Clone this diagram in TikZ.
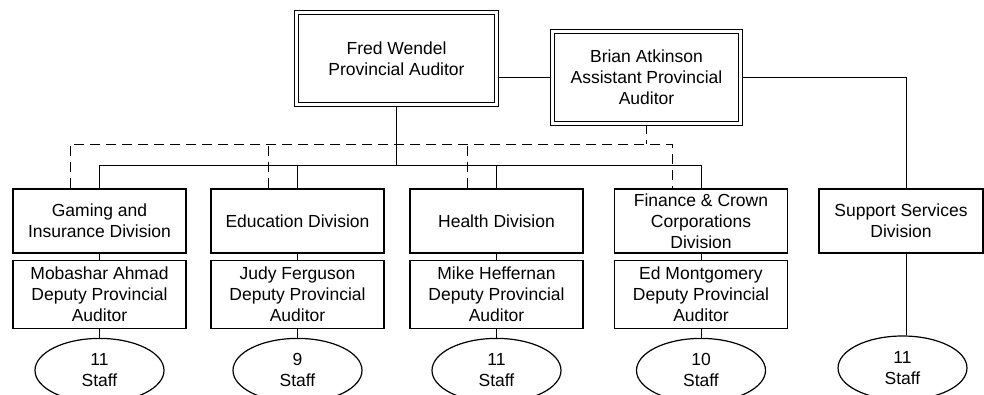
\documentclass[tikz,border=0pt]{standalone}
\usepackage{fontspec}
\setmainfont{Liberation Sans}
\usetikzlibrary{positioning,shapes.geometric,backgrounds}

\begin{document}
\begin{tikzpicture}[x=1pt, y=-1pt, line width=1.2pt,
    every node/.style={font=\fontsize{17.5}{21}\selectfont, align=center, inner sep=0pt},
    head/.style={draw, double, double distance=2.2pt, fill=white},
    unit/.style={draw, fill=white, minimum width=173pt, minimum height=64pt},
    deputy/.style={draw, fill=white, minimum width=173pt, minimum height=68pt},
    staff/.style={draw, ellipse, fill=white, minimum width=129pt, minimum height=64pt},
    link/.style={dash pattern=on 10pt off 6pt}]
    \useasboundingbox (0,0) rectangle (984,395);
    \node[head, minimum width=200pt, minimum height=92pt] (fred) at (396.5,58.5) {Fred Wendel\\Provincial Auditor};
    \node[head, minimum width=188pt, minimum height=92pt] (brian) at (646.5,77.5) {Brian Atkinson\\Assistant Provincial\\Auditor};
    \node[unit] (gaming) at (99.5,221) {Gaming and\\Insurance Division};
    \node[unit] (education) at (297.5,221) {Education Division};
    \node[unit] (health) at (496.5,221) {Health Division};
    \node[unit] (finance) at (701,221) {Finance \& Crown\\Corporations\\Division};
    \node[unit, minimum width=164pt] (support) at (901,221) {Support Services\\Division};
    \node[deputy, below=6pt of gaming] (ahmad) {Mobashar Ahmad\\Deputy Provincial\\Auditor};
    \node[deputy, below=6pt of education] (ferguson) {Judy Ferguson\\Deputy Provincial\\Auditor};
    \node[deputy, below=6pt of health] (heffernan) {Mike Heffernan\\Deputy Provincial\\Auditor};
    \node[deputy, below=6pt of finance] (montgomery) {Ed Montgomery\\Deputy Provincial\\Auditor};
    \node[staff, below=9pt of ahmad] (s1) {11\\Staff};
    \node[staff, below=9pt of ferguson] (s2) {9\\Staff};
    \node[staff, below=9pt of heffernan] (s3) {11\\Staff};
    \node[staff, below=9pt of montgomery] (s4) {10\\Staff};
    \node[staff] (s5) at (902.5,368) {11\\Staff};
    \coordinate (bus) at (0,165);
    \coordinate (dbus) at (0,144);
    \begin{scope}[on background layer]
    \draw (fred.east |- brian.west) -- (brian.west);
    \draw (brian.east) -| ([xshift=5pt]support.north);
    \draw ([xshift=5pt]support.south) -- ([xshift=5pt]support.south |- s5.north);
    \draw (fred.south) -- (fred.south |- bus);
    \draw (gaming.north) |- (finance.north |- bus) -- (finance.north);
    \draw (education.north) -- (education.north |- bus);
    \draw (health.north) -- (health.north |- bus);
    \draw[link] ([xshift=-29pt]gaming.north) |- ([xshift=-29pt]finance.north |- dbus) -- ([xshift=-29pt]finance.north);
    \draw[link] ([xshift=-29pt]education.north) -- ([xshift=-29pt]education.north |- dbus);
    \draw[link] ([xshift=-29pt]health.north) -- ([xshift=-29pt]health.north |- dbus);
    \draw[link] (brian.south) -- (brian.south |- dbus);
    \draw (gaming) -- (ahmad) -- (s1);
    \draw (education) -- (ferguson) -- (s2);
    \draw (health) -- (heffernan) -- (s3);
    \draw (finance) -- (montgomery) -- (s4);
    \end{scope}
\end{tikzpicture}
\end{document}
